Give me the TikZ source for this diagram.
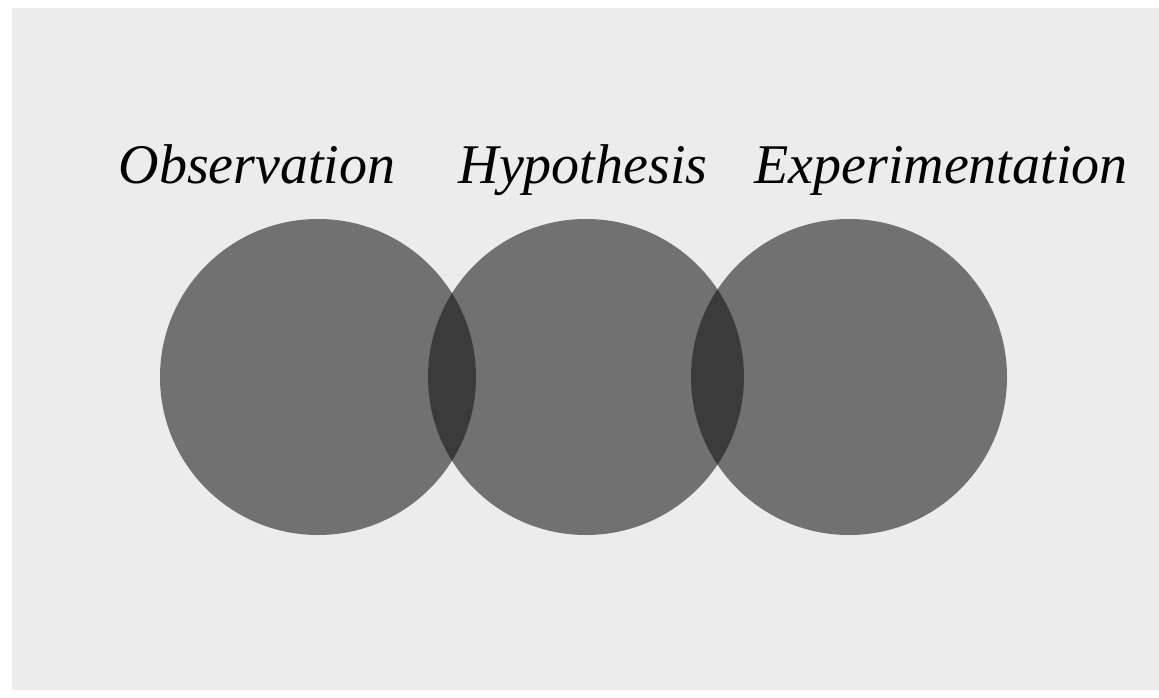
\documentclass[tikz,border=0pt]{standalone}
\usepackage{fontspec}
\setmainfont{Liberation Serif}
\definecolor{bggray}{HTML}{ECECEC}
\definecolor{discgray}{HTML}{717171}
\definecolor{overlapgray}{HTML}{3B3B3B}
\begin{document}
\begin{tikzpicture}[x=1pt,y=-1pt,
  disc/.style={circle,fill=discgray,minimum size=316pt,inner sep=0pt},
  label/.style={anchor=base,font=\itshape\fontsize{56}{60}\selectfont,inner sep=0pt}]
\useasboundingbox (0,0) rectangle (1159,698);
\fill[white] (0,0) rectangle (1159,698);
\fill[bggray] (12,8) rectangle (1159,690);
\node[disc] (c1) at (318,377) {};
\node[disc] (c2) at (586,377) {};
\node[disc] (c3) at (849,377) {};
\begin{scope}
  \clip (318,377) circle (158);
  \fill[overlapgray] (586,377) circle (158);
\end{scope}
\begin{scope}
  \clip (586,377) circle (158);
  \fill[overlapgray] (849,377) circle (158);
\end{scope}
\node[label] (l1) at (257,183) {Observation};
\node[label] (l2) at (583,183) {Hypothesis};
\node[label] (l3) at (941,183) {Experimentation};
\end{tikzpicture}
\end{document}
